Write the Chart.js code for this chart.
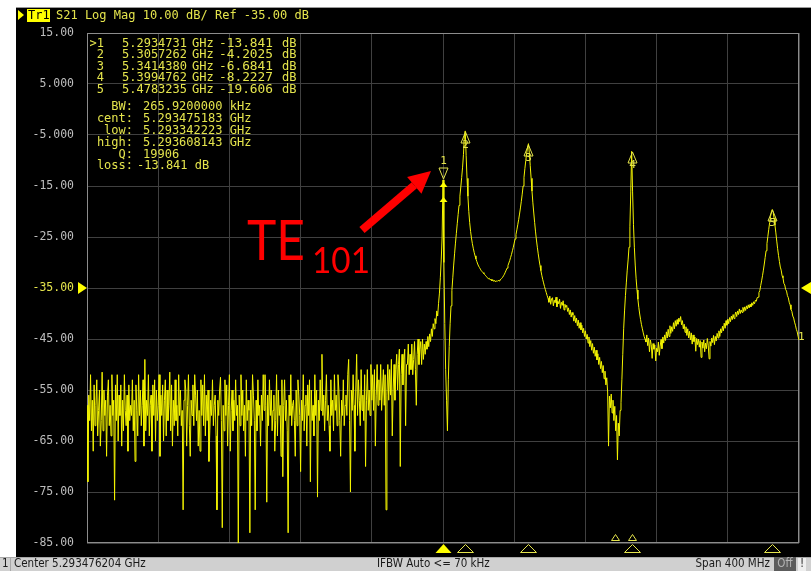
<!DOCTYPE html>
<html lang="en">
<head>
<meta charset="UTF-8" />
<title>S21 Log Mag</title>
<script src="https://cdn.jsdelivr.net/npm/chart.js"></script>
<style>
  html, body { margin: 0; padding: 0; background: #fff; }
  canvas { display: block; }
</style>
</head>
<body>
<canvas id="vna" width="811" height="571"></canvas>
<script>
  // sweep: center / span, 0.5 MHz per point (801 points)
  const centerGHz = 5.293476204;
  const spanGHz = 0.4;
  const stepGHz = 0.0005;

  // S21 trace in dB
  const s21 = [
    // noise floor, left half
    -58, -73, -56, -61, -52, -63, -57, -67, -54, -62, -58, -53, -64, -59, -55, -66, -61, -51.5, -63, -55,
    -60, -57, -68, -56, -53, -62, -58, -64, -52, -60, -57, -76.6, -54, -61, -52, -65, -56, -60, -54, -66,
    -57, -63, -52, -59, -62, -56, -67, -54, -61, -58, -60, -53, -63, -57, -69, -54, -59, -64, -52, -60,
    -55, -62, -58, -53, -66, -49, -63, -57, -60, -52, -64, -58, -56, -67, -54, -60, -53, -65, -55, -61,
    -58, -52, -68, -56, -60, -54, -65, -57, -53, -64, -55, -61, -58, -51.5, -63, -54, -66, -57, -62, -53,
    -61, -58, -64, -52, -60, -55, -62, -59, -78.5, -57, -53, -55, -66, -58, -52, -62, -68, -57, -60, -54,
    -62, -52, -56, -61, -55, -66, -59, -67, -53, -60, -54, -62, -52, -64, -56, -61, -55, -69, -63, -57,
    -60, -53, -62, -58, -56, -64, -78.5, -57, -60, -55, -52.5, -61, -82, -58, -63, -53, -60, -54, -66, -58,
    -52, -67, -59, -55, -63, -57, -61, -53, -60, -58, -85, -56, -62, -52, -60, -55, -63, -58, -68, -53,
    -61, -57, -59, -83, -55, -62, -52, -56, -61, -78.5, -57, -63, -53, -60, -58, -66, -56, -61, -52, -59,
    -52, -58, -77, -56, -62, -53, -60, -55, -63, -59, -56, -67, -61, -52, -64, -55, -60, -58, -68, -53,
    -72, -58, -53, -61, -57, -63, -83, -56, -60, -52, -62, -58, -57, -61, -68, -55, -62, -53, -56, -60,
    -71, -57, -61, -52, -63, -58, -56, -66, -54, -60, -53, -73, -55, -61, -58, -64, -52, -60, -55, -76,
    -57, -61, -53, -59, -48, -60, -56, -63, -57, -52, -61, -58, -62, -67, -53, -60, -57, -63, -52, -59,
    -56, -62, -52, -55, -61, -68, -57, -60, -53, -62, -58, -56, -60, -52, -49, -61, -75, -55, -59, -52,
    -58, -67, -55, -48, -60, -53, -57, -62, -51, -59, -56, -61, -52, -70, -57, -51, -59, -55, -60, -50,
    -57, -52, -59, -51, -66, -56, -50, -58, -53, -57, -50, -59, -55, -51, -58, -52, -78.5, -56, -50, -57,
    -51, -56, -49, -64, -55, -50, -57, -51, -48, -55, -50, -47, -70, -52, -48, -54, -49, -47, -62, -50,
    -50, -46, -52, -48, -51, -46, -52, -49, -45.5, -51, -58, -48, -45, -50, -47, -45.5, -50, -45, -49, -46,
    -48, -45.5, -47, -44.5, -46.5, -44, -45.5, -43, -44.5, -42, -43, -41, -42, -39.5, -40.5, -38, -36, -33, -29.5, -25,
    // marker 1 (TE101), dip, marker 2
    -13.8, -30, -42, -51, -57, -63, -53, -46.5, -42, -38.5,
    -35.5, -33, -30.5, -28.3, -26.2, -24.3, -22.4, -20.6, -18.8, -17,
    -15.2, -13.3, -11.3, -8.8, -5.2, -4.2, -9, -13.5, -17, -20,
    -22.2, -23.9, -25.2, -26.3, -27.2, -28, -28.7, -29.3, -29.8, -30.3,
    -30.7, -31, -31.3, -31.6, -31.8, -32, -32.2, -32.4, -32.6, -32.8,
    -33, -33.2, -33.1, -33.4, -33.3, -33.6, -33.4, -33.7, -33.5, -33.8,
    -33.6, -33.7, -33.5, -33.6, -33.4, -33.3, -33.1, -32.9, -32.6, -32.3,
    -31.9, -31.5, -31.1, -30.6, -30.1, -29.6, -29, -28.4, -27.7, -27,
    -26.2, -25.4, -24.5, -23.6, -22.6, -21.6, -20.5, -19.3, -18, -16.6,
    // marker 3
    -15, -13.3, -11.6, -10, -8.6, -7.4, -6.7, -8.5, -11, -13.5,
    -16, -18.3, -20.3, -22.2, -24, -25.6, -27, -28.3, -29.5, -30.6,
    -31.6, -32.5, -33.3, -34, -34.7, -35.3, -35.9, -36.5, -37,
    -37.8, -36.6, -38.2, -37.1, -36.9, -38.5, -37.4, -37.9, -36.8, -38.7, -37.6, -38.1, -37.2, -39, -37.8, -38.4, -37.5, -39.3, -38.2, -38.8,
    -38.4, -39.6, -38.9, -40.2, -39.3, -40.7, -39.8, -40.3, -41.5, -40.4, -41.8, -40.9, -42.4, -41.3, -42.9, -41.8, -43.2, -42.3, -43.8, -42.9,
    -44.5, -43.4, -45, -44.1, -45.8, -44.6, -46.5, -45.3, -47.2, -45.9, -47.8, -46.6, -48.4, -47.2, -49.1, -47.9, -50, -48.6, -50.8, -49.4,
    -51.6, -50.2, -52.8, -51.3, -54, -52.6, -55.4, -66, -56.2, -58.5, -55.8, -59.5, -57, -61, -58.2, -63, -60, -68.7, -61.5, -64, -59,
    // marker 4
    -57.5, -53, -48, -43, -39.5, -36.5, -34, -31.5, -29.5, -27, -23, -16, -8.2, -16, -22.5, -27, -30.5, -33.2, -35.4, -37.2,
    -38.8, -40.1, -41.2, -42.2, -43, -43.8, -44.5, -45,
    -45.6, -44.2, -46.3, -44.8, -47.5, -45.2, -46.1, -48.8, -45.9, -47, -46.2, -49.3, -46.8, -47.5, -45.6, -48.2, -46.4, -45.1, -46.9, -44.6,
    -45.8, -44.2, -45.3, -43.6, -44.8, -43.1, -44.5, -42.4, -43.9, -42.6, -43.5, -41.8, -43, -41.4, -42.5, -41.2, -42.1, -40.9, -41.6, -40.6,
    -42.2, -41.4, -43, -42.1, -43.7, -42.6, -44.3, -43, -44.8, -43.5, -45.2, -43.8, -46, -44.2, -45.5, -44.6, -47.4, -44.9, -46.1, -45,
    -46.6, -45.3, -48.6, -45.6, -46.8, -45.2, -47.5, -45.8, -46.9, -44.9, -46.2, -48.9, -45.5, -46.4, -44.8, -45.7, -44.3, -46.1, -44.5, -45.4,
    -43.9, -44.8, -43.4, -44.5, -43, -43.8, -42.5, -43.4, -41.9, -42.9, -41.4, -42.3, -41.1, -42, -40.8, -41.6, -40.5, -41.2, -40.2, -41,
    -40.3, -39.7, -40.6, -39.5, -40.2, -39.1, -40, -39.3, -39.8, -38.8, -39.6, -38.7, -39.4, -38.5, -39.1, -38.3, -38.9, -38.2, -38.7, -37.9,
    -38.4, -37.7, -38.1, -37.4, -37.6, -36.9, -36.8, -35.9, -35.5, -34.5, -33.6, -32.6, -31.5, -30.3, -29, -27.7, -26.3, -24.9, -23.5, -22.2, -21, -20,
    // marker 5
    -19.6, -20.2, -21.3, -22.7, -24.2, -25.8, -27.3, -28.6, -29.8, -30.9,
    -31.5, -32.6, -33, -34.1, -34.4, -35.3, -35.6, -36.5, -36.9, -37.8,
    -38.3, -39.2, -39.6, -40.5, -40.9, -41.7, -42.3, -43.1, -43.6, -44.5,
    -45.2
  ];

  // markers
  const markerNames = ['>1', '2', '3', '4', '5'];
  const markerFreqGHz = [5.2934731, 5.3057262, 5.3414380, 5.3994762, 5.4783235];
  const markerDb = [-13.841, -4.2025, -6.6841, -8.2227, -19.606];
  const extraMarkerGHz = [5.38996, 5.39953];   // small ones near marker 4

  // bandwidth search readout
  const bwLabels = ['BW:', 'cent:', 'low:', 'high:', 'Q:', 'loss:'];
  const bwValues = ['265.9200000 kHz', '5.293475183 GHz', '5.293342223 GHz', '5.293608143 GHz', '19906', '-13.841 dB'];

  const yTicks = [15, 5, -5, -15, -25, -35, -45, -55, -65, -75, -85];
  const yTickLabels = ['15.00', '5.000', '-5.000', '-15.00', '-25.00', '-35.00', '-45.00', '-55.00', '-65.00', '-75.00', '-85.00'];
  const refDb = -35;

  const startGHz = centerGHz - spanGHz / 2;
  const endGHz = centerGHz + spanGHz / 2;
  const xGrid = [];
  for (let k = 0; k <= 10; k++) xGrid.push(startGHz + k * spanGHz / 10);

  const YEL = '#e4e44c';
  const MONO = '"DejaVu Sans Mono", monospace';

  function tri(ctx, x, yApex, h, hw, up, fill, color) {
    const yb = up ? yApex + h : yApex - h;
    ctx.beginPath();
    ctx.moveTo(x, yApex);
    ctx.lineTo(x - hw, yb);
    ctx.lineTo(x + hw, yb);
    ctx.closePath();
    if (fill) { ctx.fillStyle = color; ctx.fill(); }
    else { ctx.strokeStyle = color; ctx.lineWidth = 1; ctx.stroke(); }
  }

  function fitText(ctx, txt, x, y, w, font) {
    ctx.save();
    ctx.font = font;
    const m = ctx.measureText(txt).width;
    ctx.translate(x, y);
    ctx.scale(w / m, 1);
    ctx.fillText(txt, 0, 0);
    ctx.restore();
  }

  const screenPlugin = {
    id: 'screen',
    beforeDraw(chart) {
      const ctx = chart.ctx;
      ctx.save();
      ctx.fillStyle = '#fff';
      ctx.fillRect(0, 0, 811, 571);
      ctx.fillStyle = '#000';
      ctx.fillRect(16, 8, 795, 549);
      ctx.fillStyle = '#9a9a9a';
      ctx.fillRect(16, 7, 795, 1);

      // header
      ctx.fillStyle = '#ffff00';
      ctx.beginPath(); ctx.moveTo(18, 10); ctx.lineTo(24, 15); ctx.lineTo(18, 20); ctx.closePath(); ctx.fill();
      ctx.fillRect(27, 9, 23, 13);
      ctx.font = '12px ' + MONO;
      ctx.textBaseline = 'middle';
      ctx.fillStyle = '#000';
      ctx.fillText('Tr1', 28, 15.5);
      ctx.fillStyle = YEL;
      ctx.fillText('S21 Log Mag 10.00 dB/ Ref -35.00 dB', 56, 15.5);

      // status bar
      ctx.fillStyle = '#d0d0d0';
      ctx.fillRect(0, 557, 811, 14);
      ctx.fillStyle = '#a8a8a8';
      ctx.fillRect(0, 557, 811, 1);
      ctx.fillRect(10, 558, 1, 13);
      ctx.fillStyle = '#1a1a1a';
      ctx.font = '11.5px "DejaVu Sans Condensed", sans-serif';
      ctx.fillText('1', 2, 564.5);
      ctx.fillText('Center 5.293476204 GHz', 14, 564.5);
      ctx.fillText('IFBW Auto <= 70 kHz', 377, 564.5);
      ctx.textAlign = 'right';
      ctx.fillText('Span 400 MHz', 770, 564.5);
      ctx.fillStyle = '#5c5c5c';
      ctx.fillRect(774, 557, 22, 14);
      ctx.fillStyle = '#b4b4b4';
      ctx.textAlign = 'center';
      ctx.fillText('Off', 785, 564.5);
      ctx.fillStyle = '#eeeeee';
      ctx.fillRect(798, 558, 8, 13);
      ctx.fillStyle = '#333';
      ctx.fillText('!', 802, 564.5);
      ctx.restore();
    },
    beforeDatasetsDraw(chart) {
      const { ctx, chartArea: a } = chart;
      ctx.save();
      ctx.strokeStyle = '#8c8c8c';
      ctx.lineWidth = 1;
      ctx.strokeRect(a.left + 0.5, a.top + 0.5, a.right - a.left - 1, a.bottom - a.top - 1);

      // marker table
      ctx.font = '12px ' + MONO;
      ctx.textBaseline = 'middle';
      ctx.fillStyle = YEL;
      const rowY = [43.5, 55, 66.5, 78, 89.5];
      markerNames.forEach((n, i) => {
        ctx.textAlign = 'right';
        ctx.fillText(n, 104, rowY[i]);
        ctx.textAlign = 'left';
        ctx.fillText(markerFreqGHz[i].toFixed(7), 122, rowY[i]);
        ctx.fillText('GHz', 192, rowY[i]);
        fitText(ctx, markerDb[i].toPrecision(5), 219, rowY[i], 54, '12px ' + MONO);
        ctx.fillText('dB', 282, rowY[i]);
      });
      const bwY = [107, 119, 131, 142.5, 154.5, 166];
      bwLabels.forEach((l, i) => {
        ctx.textAlign = 'right';
        ctx.fillText(l, 133, bwY[i]);
        ctx.textAlign = 'left';
        ctx.fillText(bwValues[i], l === 'loss:' ? 137 : 143, bwY[i]);
      });
      ctx.restore();
    },
    afterDatasetsDraw(chart) {
      const { ctx, scales: { x, y }, chartArea: a } = chart;
      ctx.save();
      ctx.font = '11px ' + MONO;
      ctx.textAlign = 'center';
      ctx.textBaseline = 'middle';

      // peak markers
      markerFreqGHz.forEach((f, i) => {
        const px = Math.round(x.getPixelForValue(f)) + 0.5;
        const py = Math.round(y.getPixelForValue(markerDb[i]));
        if (i === 0) {
          tri(ctx, px, py - 1, 11, 4.5, false, false, YEL);
          ctx.fillStyle = YEL;
          ctx.fillText('1', px, py - 19);
          tri(ctx, px, py + 2, 5, 4, true, true, '#ffff00');
          tri(ctx, px, py + 17, 5, 4, true, true, '#ffff00');
        } else {
          tri(ctx, px, py + 1, 11, 4.5, true, false, YEL);
          ctx.fillStyle = YEL;
          ctx.fillText(String(i + 1), px, py + 14);
        }
        // bottom indicators
        if (i === 0) tri(ctx, px, a.bottom + 1, 9, 8, true, true, '#ffff00');
        else tri(ctx, px, a.bottom + 1.5, 8, 8, true, false, YEL);
      });
      extraMarkerGHz.forEach(f => {
        const px = Math.round(x.getPixelForValue(f)) + 0.5;
        tri(ctx, px, a.bottom - 8.5, 6, 4, true, false, YEL);
      });

      // reference level arrows
      const ry = y.getPixelForValue(refDb);
      ctx.fillStyle = '#ffff00';
      ctx.beginPath(); ctx.moveTo(78, ry - 6); ctx.lineTo(87, ry); ctx.lineTo(78, ry + 6); ctx.closePath(); ctx.fill();
      ctx.beginPath(); ctx.moveTo(811, ry - 6); ctx.lineTo(801, ry); ctx.lineTo(811, ry + 6); ctx.closePath(); ctx.fill();

      // trace number at the right end
      ctx.fillStyle = YEL;
      ctx.textAlign = 'left';
      ctx.fillText('1', 798, y.getPixelForValue(s21[s21.length - 1]) - 3);

      // red annotation
      const tip = [431, 171], tail = [362, 230];
      const dx = tip[0] - tail[0], dy = tip[1] - tail[1];
      const len = Math.hypot(dx, dy), ux = dx / len, uy = dy / len;
      const bx = tip[0] - 22 * ux, by = tip[1] - 22 * uy;
      ctx.strokeStyle = '#ff0000';
      ctx.lineWidth = 8;
      ctx.beginPath(); ctx.moveTo(tail[0], tail[1]); ctx.lineTo(bx, by); ctx.stroke();
      ctx.fillStyle = '#ff0000';
      ctx.beginPath();
      ctx.moveTo(tip[0], tip[1]);
      ctx.lineTo(bx - 11 * uy, by + 11 * ux);
      ctx.lineTo(bx + 11 * uy, by - 11 * ux);
      ctx.closePath(); ctx.fill();
      ctx.textAlign = 'left';
      ctx.textBaseline = 'alphabetic';
      fitText(ctx, 'TE', 247, 260, 58, '56px Lato, sans-serif');
      fitText(ctx, '101', 312, 273, 58, '37px Lato, sans-serif');
      ctx.restore();
    }
  };

  new Chart(document.getElementById('vna'), {
    type: 'line',
    data: {
      datasets: [{
        data: s21.map((v, i) => ({ x: startGHz + i * stepGHz, y: v })),
        borderColor: '#f4f400',
        borderWidth: 1,
        pointRadius: 0,
        tension: 0
      }]
    },
    options: {
      responsive: false,
      animation: false,
      devicePixelRatio: 1,
      layout: { padding: { left: 0, top: 33, right: 12, bottom: 28 } },
      plugins: { legend: { display: false }, tooltip: { enabled: false } },
      scales: {
        x: {
          type: 'linear', min: startGHz, max: endGHz,
          afterBuildTicks: s => { s.ticks = xGrid.map(v => ({ value: v })); },
          afterFit: s => { s.height = 0; },
          ticks: { display: false },
          grid: { color: '#404040', drawTicks: false },
          border: { display: false }
        },
        y: {
          min: -85, max: 15,
          afterBuildTicks: s => { s.ticks = yTicks.map(v => ({ value: v })); },
          afterFit: s => { s.width = 87; },
          ticks: {
            padding: 13,
            font: { family: 'DejaVu Sans Mono', size: 11.5 },
            color: c => (c.tick && c.tick.value === refDb) ? YEL : '#bdbdbd',
            callback: v => yTickLabels[yTicks.indexOf(v)]
          },
          grid: { color: '#404040', drawTicks: false },
          border: { display: false }
        }
      }
    },
    plugins: [screenPlugin]
  });
</script>
</body>
</html>
